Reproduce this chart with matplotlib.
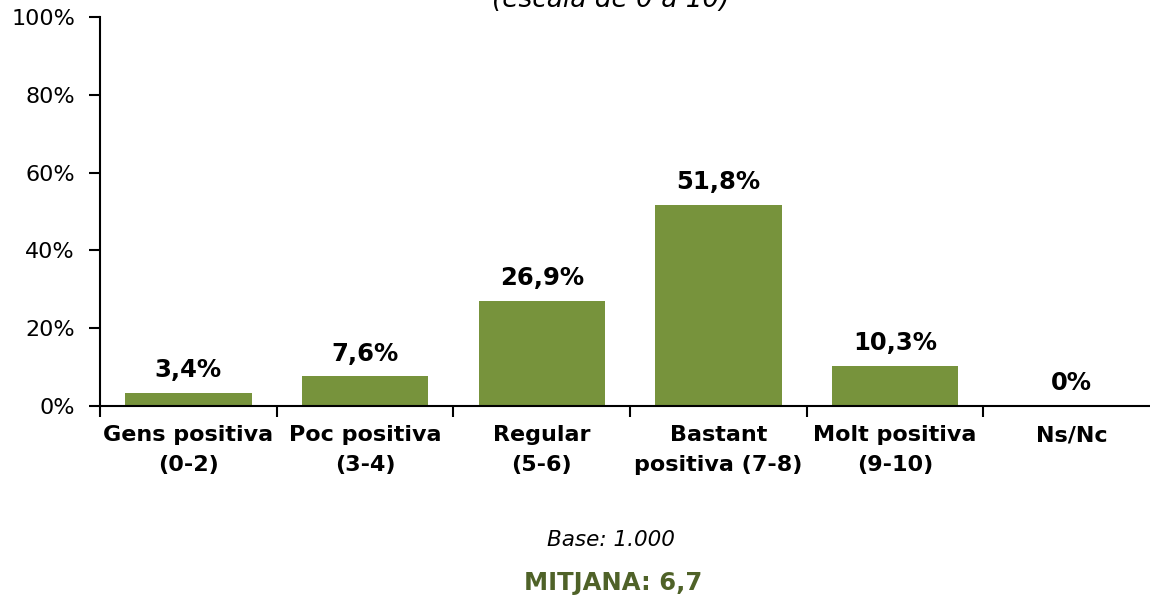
import matplotlib.pyplot as plt

# valoracio (escala de 0 a 10)
categories = ['Gens positiva\n(0-2)', 'Poc positiva\n(3-4)', 'Regular\n(5-6)',
              'Bastant\npositiva (7-8)', 'Molt positiva\n(9-10)', 'Ns/Nc']
values = [3.4, 7.6, 26.9, 51.8, 10.3, 0]
labels = ['3,4%', '7,6%', '26,9%', '51,8%', '10,3%', '0%']
yticks = [0, 20, 40, 60, 80, 100]

plt.rcParams['font.family'] = 'DejaVu Sans'

fig = plt.figure(figsize=(11.5, 5.98), dpi=100)
ax = fig.add_axes([0.087, 0.321, 0.9217, 0.6505])

x = list(range(len(categories)))
bars = ax.bar(x, values, width=0.715, color='#77933C')

for b, v, lab in zip(bars, values, labels):
    ax.annotate(lab, (b.get_x() + b.get_width() / 2, v), xytext=(0, 11.5),
                textcoords='offset points', ha='center', va='baseline',
                fontsize=17.5, fontweight='bold')

ax.set_xlim(-0.5, len(categories) - 0.5)
ax.set_ylim(0, 100)
ax.set_yticks(yticks)
ax.set_yticklabels([str(t) + '%' for t in yticks], fontsize=16)

# ticks between the categories, labels centred under the bars
ax.set_xticks([i - 0.5 for i in range(len(categories))])
ax.set_xticklabels([])
ax.set_xticks(x, minor=True)
ax.set_xticklabels(categories, minor=True, fontsize=16, fontweight='bold',
                   linespacing=1.62)
ax.tick_params(axis='x', which='minor', length=0, pad=14)
ax.tick_params(axis='x', which='major', length=8, width=1.5, direction='out')
ax.tick_params(axis='y', length=8, width=1.5, direction='out', pad=10)

for s in ['top', 'right']:
    ax.spines[s].set_visible(False)
ax.spines['left'].set_linewidth(1.5)
ax.spines['bottom'].set_linewidth(1.5)

fig.text(0.531, 1 - 7 / 598, '(escala de 0 a 10)', ha='center', va='baseline',
         fontsize=19, style='italic')
fig.text(0.531, 1 - 546 / 598, 'Base: 1.000', ha='center', va='baseline',
         fontsize=15.5, style='italic')
fig.text(0.533, 1 - 590 / 598, 'MITJANA: 6,7', ha='center', va='baseline',
         fontsize=17.5, fontweight='bold', color='#4F6228')

fig.savefig('out.png', dpi=100)
